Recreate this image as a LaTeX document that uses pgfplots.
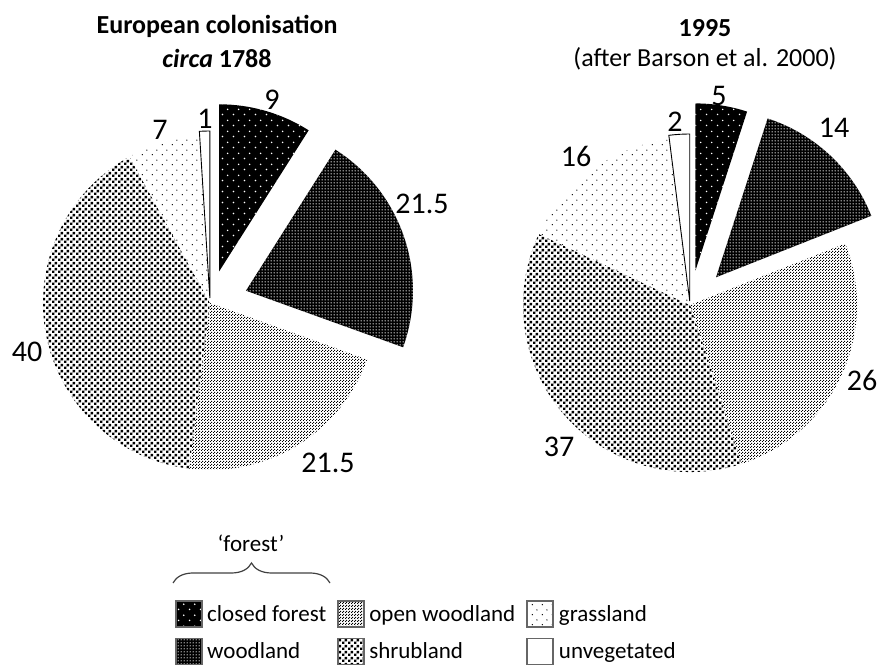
\documentclass[border=0pt]{standalone}
\usepackage{fontspec}
\setmainfont{Carlito}
\usepackage{pgfplots}
\pgfplotsset{compat=1.18}
\usepackage{pgfplotstable}
\usetikzlibrary{patterns,decorations.pathreplacing}

% ---------- patterns ----------
\pgfdeclarepatternformonly{cfdots}{\pgfqpoint{0bp}{0bp}}{\pgfqpoint{11bp}{11bp}}{\pgfqpoint{11bp}{11bp}}{%
  \pgfpathcircle{\pgfqpoint{2.75bp}{2.75bp}}{0.9bp}%
  \pgfpathcircle{\pgfqpoint{8.25bp}{8.25bp}}{0.9bp}\pgfusepath{fill}}
\pgfdeclarepatternformonly{wdots}{\pgfqpoint{0bp}{0bp}}{\pgfqpoint{3bp}{3bp}}{\pgfqpoint{3bp}{3bp}}{%
  \pgfpathcircle{\pgfqpoint{1.5bp}{1.5bp}}{0.85bp}\pgfusepath{fill}}
\pgfdeclarepatternformonly{owcheck}{\pgfqpoint{0bp}{0bp}}{\pgfqpoint{3bp}{3bp}}{\pgfqpoint{3bp}{3bp}}{%
  \pgfpathrectangle{\pgfqpoint{0bp}{0bp}}{\pgfqpoint{1.3bp}{1.3bp}}%
  \pgfpathrectangle{\pgfqpoint{1.5bp}{1.5bp}}{\pgfqpoint{1.3bp}{1.3bp}}\pgfusepath{fill}}
\pgfdeclarepatternformonly{shcheck}{\pgfqpoint{0bp}{0bp}}{\pgfqpoint{5.6bp}{5.6bp}}{\pgfqpoint{5.6bp}{5.6bp}}{%
  \pgfpathrectangle{\pgfqpoint{0bp}{0bp}}{\pgfqpoint{2.6bp}{2.6bp}}%
  \pgfpathrectangle{\pgfqpoint{2.8bp}{2.8bp}}{\pgfqpoint{2.6bp}{2.6bp}}\pgfusepath{fill}}
\pgfdeclarepatternformonly{grdots}{\pgfqpoint{0bp}{0bp}}{\pgfqpoint{10bp}{10bp}}{\pgfqpoint{10bp}{10bp}}{%
  \pgfpathcircle{\pgfqpoint{2.5bp}{2.5bp}}{0.75bp}%
  \pgfpathcircle{\pgfqpoint{7.5bp}{7.5bp}}{0.75bp}\pgfusepath{fill}}

\tikzset{
  closedforest/.style={preaction={fill=black}, pattern=cfdots, pattern color=white},
  woodland/.style={preaction={fill=black}, pattern=wdots, pattern color=white},
  openwoodland/.style={preaction={fill=white}, pattern=owcheck, pattern color=black},
  shrubland/.style={preaction={fill=white}, pattern=shcheck, pattern color=black},
  grassland/.style={preaction={fill=white}, pattern=grdots, pattern color=black},
  unvegetated/.style={fill=white, draw=black, line width=0.9bp},
}

\newcommand\lblfont{\fontsize{30bp}{34bp}\selectfont}
\newcommand\ttlfont{\fontsize{26bp}{30bp}\selectfont}
\newcommand\lgdfont{\fontsize{23bp}{27bp}\selectfont}

% ---------- data ----------
\pgfplotstableread{
class value explode lx ly
closedforest 9 33 272 100
woodland 21.5 38 422 204
openwoodland 21.5 0 328 463
shrubland 40 0 27 352
grassland 7 0 160 130
unvegetated 1 5 205 119
}\colonial

\pgfplotstableread{
class value explode lx ly
closedforest 5 35 719 96
woodland 14 38 834 128
openwoodland 26 0 862 380
shrubland 37 0 559 447
grassland 16 0 576 156
unvegetated 2 4 675 122
}\modern

% #1 table, #2 cx, #3 cy, #4 radius
\newcommand\drawpie[4]{%
  \pgfplotstablegetrowsof{#1}%
  \pgfmathtruncatemacro\nrows{\pgfplotsretval-1}%
  \xdef\pcum{0}%
  \pgfplotsforeachungrouped \i in {0,...,\nrows}{%
    \pgfplotstablegetelem{\i}{value}\of{#1}\let\pv\pgfplotsretval
    \pgfplotstablegetelem{\i}{explode}\of{#1}\let\pe\pgfplotsretval
    \pgfplotstablegetelem{\i}{class}\of{#1}\let\pc\pgfplotsretval
    \pgfplotstablegetelem{\i}{lx}\of{#1}\let\plx\pgfplotsretval
    \pgfplotstablegetelem{\i}{ly}\of{#1}\let\ply\pgfplotsretval
    \pgfmathsetmacro\sa{90-3.6*\pcum}%
    \pgfmathsetmacro\ea{90-3.6*(\pcum+\pv)}%
    \pgfmathsetmacro\ma{(\sa+\ea)/2}%
    \pgfmathsetmacro\ox{#2+\pe*cos(\ma)}%
    \pgfmathsetmacro\oy{#3+\pe*sin(\ma)}%
    \pgfmathsetmacro\sx{\ox+#4*cos(\sa)}%
    \pgfmathsetmacro\sy{\oy+#4*sin(\sa)}%
    \edef\tmp{\noexpand\path[\pc] (axis cs:\ox,\oy) -- (axis cs:\sx,\sy)
      arc[start angle=\sa, end angle=\ea, radius=#4bp] -- cycle;
      \noexpand\node[font=\noexpand\lblfont] at (axis cs:\plx,-\ply) {\pv};}%
    \tmp
    \pgfmathsetmacro\tmpc{\pcum+\pv}\xdef\pcum{\tmpc}%
  }%
}

\begin{document}
\begin{tikzpicture}
\begin{axis}[
  at={(0bp,0bp)}, anchor=south west,
  width=878bp, height=667bp, scale only axis,
  xmin=0, xmax=878, ymin=-667, ymax=0,
  hide axis, clip=false,
  legend columns=3,
  legend cell align=left,
  legend image code/.code={%
    \path[draw=black!60, line width=1.6bp, #1] (0bp,-13bp) rectangle (26bp,13bp);
    \path (29bp,0bp);},
  legend style={at={(axis cs:175,-600)}, anchor=north west, draw=none, fill=none,
    inner sep=0pt, row sep=10bp, font=\lgdfont,
    nodes={inner sep=2bp},
    /tikz/every even column/.append style={column sep=9bp}},
]
\addlegendimage{closedforest}\addlegendentry{closed forest}
\addlegendimage{openwoodland}\addlegendentry{open woodland}
\addlegendimage{grassland}\addlegendentry{grassland}
\addlegendimage{woodland}\addlegendentry{woodland}
\addlegendimage{shrubland}\addlegendentry{shrubland}
\addlegendimage{unvegetated, draw=black, line width=1.8bp}\addlegendentry{unvegetated}

\pgfplotsextra{%
  \drawpie{\colonial}{210}{-303}{167}%
  \drawpie{\modern}{690}{-305}{167}%
}

\node[font=\ttlfont\bfseries] at (axis cs:217,-26) {European colonisation};
\node[font=\ttlfont\bfseries] at (axis cs:217,-58) {\textit{circa} 1788};
\node[font=\ttlfont\bfseries] at (axis cs:705,-28) {1995};
\node[font=\ttlfont] at (axis cs:705,-59) {(after Barson et al. 2000)};

\node[font=\lgdfont] at (axis cs:251,-543) {‘forest’};
\draw[black!75, line width=1.2bp, decorate, decoration={brace, amplitude=20bp}]
  (axis cs:173,-583) -- (axis cs:330,-583);
\end{axis}
\pgfresetboundingbox
\useasboundingbox (0bp,0bp) rectangle (878bp,667bp);
\end{tikzpicture}
\end{document}
